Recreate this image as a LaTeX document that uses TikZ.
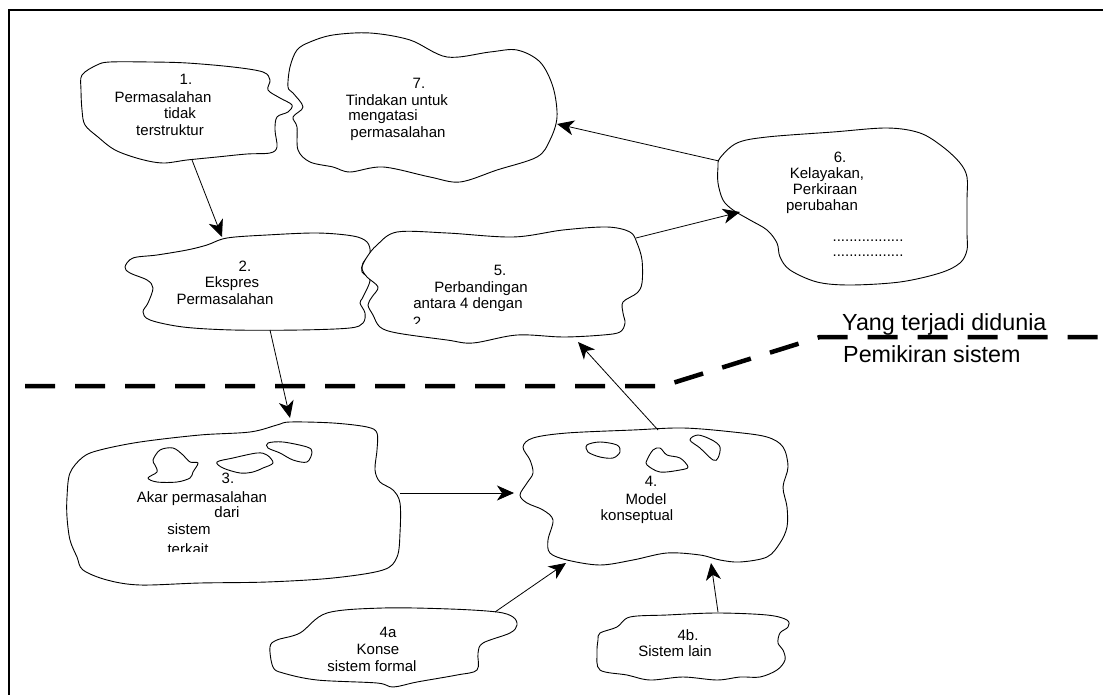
\documentclass[tikz,border=0pt]{standalone}
\usepackage{fontspec}
\setmainfont{Liberation Sans}
\usetikzlibrary{arrows.meta}

\tikzset{
  cloudline/.style={draw=black, line width=0.9pt, fill=white, line join=round},
  blobline/.style={draw=black, line width=0.9pt, line join=round},
  flow/.style={draw=black, line width=0.8pt, -{Stealth[length=17pt,width=15pt,inset=5pt]}},
  lbl/.style={anchor=base, inner sep=0pt, font=\fontsize{15}{17}\selectfont},
  bigtxt/.style={anchor=base west, inner sep=0pt, font=\fontsize{23.3}{27}\selectfont},
  border/.style={draw=black, line width=2.2pt},
  divider/.style={draw=black, line width=4.5pt, dash pattern=on 30pt off 20pt}
}
\newcommand\cloudpath[1]{\path[cloudline] plot[smooth cycle, tension=0.55] coordinates {#1};}
\newcommand\blobpath[1]{\path[blobline] plot[smooth cycle, tension=0.55] coordinates {#1};}

\begin{document}
\begin{tikzpicture}[x=1pt, y=-1pt]
\useasboundingbox (0,0) rectangle (1103,695);

% frame: top and left edges
\draw[border] (9,695) -- (9,10) -- (1103,10);

% boundary between the real world and systems thinking
\draw[divider] (25,386) -- (663,386) -- (820,337) -- (1103,337);
\node[bigtxt] (world) at (842,330) {Yang terjadi didunia};
\node[bigtxt] (think) at (843,362) {Pemikiran sistem};

% 1. unstructured problem
\cloudpath{(82,75) (97,65) (110,62) (150,62) (187,63) (233,67) (263,72) (270,80) (268,90) (280,98) (292,105) (288,112) (277,117) (275,130) (277,147) (270,153) (247,154) (217,157) (187,160) (163,163) (140,159) (115,150) (98,137) (85,125) (82,110) (81,90)}
\node[lbl] (t1a) at (186,85) {1.};
\node[lbl] (t1b) at (163,103) {Permasalahan};
\node[lbl] (t1c) at (180,119) {tidak};
\node[lbl] (t1d) at (170,136) {terstruktur};

% 7. action
\cloudpath{(297,50) (310,42) (333,35) (370,33) (410,40) (447,57) (490,52) (517,50) (540,62) (553,87) (557,117) (550,140) (537,157) (497,170) (460,182) (430,177) (383,167) (350,172) (333,167) (310,162) (298,150) (297,127) (293,117) (303,107) (293,93) (288,87) (290,67)}
\node[lbl] (t7a) at (419,89) {7.};
\node[lbl] (t7b) at (397,106) {Tindakan untuk};
\node[lbl] (t7c) at (383,121) {mengatasi};
\node[lbl] (t7d) at (398,138) {permasalahan};

% 6. feasible changes
\cloudpath{(718,167) (720,158) (737,143) (767,137) (833,132) (887,128) (920,133) (943,147) (960,163) (967,177) (967,200) (967,233) (967,250) (960,263) (940,273) (900,282) (850,285) (817,282) (790,270) (780,257) (777,243) (767,230) (750,220) (733,210) (723,200) (718,183)}
\node[lbl] (t6a) at (840,163) {6.};
\node[lbl] (t6b) at (827,179) {Kelayakan,};
\node[lbl] (t6c) at (825,195) {Perkiraan};
\node[lbl] (t6d) at (822,211) {perubahan};
\node[lbl] (t6e) at (868,241) {.................};
\node[lbl] (t6f) at (868,257) {.................};

% 2. problem expressed
\cloudpath{(125,267) (133,258) (157,255) (187,250) (207,245) (227,238) (267,235) (317,233) (353,236) (367,242) (370,253) (363,263) (362,272) (370,280) (363,297) (360,303) (365,313) (363,323) (350,328) (300,330) (233,330) (183,327) (150,320) (143,312) (148,303) (153,288) (147,280) (130,273)}
\node[lbl] (t2a) at (245,271) {2.};
\node[lbl] (t2b) at (232,287) {Ekspres};
\node[lbl] (t2c) at (225,304) {Permasalahan};

% 5. comparison
\cloudpath{(377,245) (397,232) (447,233) (513,237) (563,230) (607,227) (630,232) (637,243) (642,260) (642,283) (637,293) (623,302) (623,313) (625,323) (620,332) (603,335) (563,337) (517,335) (473,343) (447,340) (397,333) (380,327) (373,315) (368,305) (372,297) (378,287) (367,277) (362,268) (367,257)}
\node[lbl] (t5a) at (500,275) {5.};
\node[lbl] (t5b) at (481,292) {Perbandingan};
\node[lbl] (t5c) at (468,308) {antara 4 dengan};
\begin{scope}
  \clip (400,300) rectangle (440,323);
  \node[lbl] (t5d) at (417,327.5) {2};
\end{scope}

% 3. root definitions
\cloudpath{(70,473) (83,457) (100,450) (140,442) (200,435) (250,432) (277,425) (290,422) (333,423) (367,427) (377,433) (377,450) (375,470) (380,482) (393,490) (400,503) (400,533) (397,557) (383,570) (333,578) (267,582) (200,583) (140,585) (107,580) (83,570) (77,557) (70,540) (67,517) (67,497)}
\blobpath{(153,460) (160,450) (173,448) (183,455) (190,462) (198,463) (193,472) (190,478) (177,482) (157,482) (148,478) (157,472) (155,465)}
\blobpath{(217,462) (233,458) (257,453) (267,455) (273,463) (263,468) (253,472) (240,473) (223,468)}
\blobpath{(268,443) (283,442) (307,447) (312,452) (307,462) (293,460) (280,453) (268,448)}
\node[lbl] (t3a) at (228,483) {3.};
\node[lbl] (t3b) at (202,502) {Akar permasalahan};
\node[lbl] (t3c) at (227,517) {dari};
\node[lbl] (t3d) at (189,534) {sistem};
\begin{scope}
  \clip (150,535) rectangle (230,551);
  \node[lbl] (t3e) at (188,554.5) {terkait};
\end{scope}

% 4. conceptual model
\cloudpath{(530,460) (523,447) (533,438) (567,433) (633,430) (683,428) (733,432) (767,437) (783,447) (788,467) (783,487) (787,507) (787,527) (780,543) (767,557) (740,562) (720,560) (700,555) (667,553) (633,560) (600,565) (567,560) (550,553) (548,540) (553,520) (543,510) (527,503) (520,495) (527,483) (533,473)}
\blobpath{(587,445) (600,442) (617,445) (620,452) (613,458) (600,457) (588,452)}
\blobpath{(647,460) (653,450) (660,448) (667,455) (680,458) (688,467) (680,470) (660,472) (647,465)}
\blobpath{(690,440) (698,435) (712,440) (720,447) (718,458) (713,460) (700,448)}
\node[lbl] (t4a) at (651,486) {4.};
\node[lbl] (t4b) at (646,504) {Model};
\node[lbl] (t4c) at (637,520) {konseptual};

% 4a. formal system concept
\cloudpath{(270,647) (277,640) (300,633) (327,613) (383,608) (450,609) (497,612) (513,617) (517,625) (510,633) (483,643) (478,653) (477,670) (457,675) (417,682) (393,687) (377,683) (317,680) (283,673) (273,667)}
\node[lbl] (t4aa) at (388,637) {4a};
\node[lbl] (t4ab) at (378,654) {Konse};
\node[lbl] (t4ac) at (372,671) {sistem formal};

% 4b. other systems
\cloudpath{(598,640) (600,633) (617,627) (630,617) (667,615) (717,613) (767,615) (787,620) (788,627) (780,633) (778,643) (783,650) (785,660) (777,670) (760,677) (740,677) (717,680) (683,677) (650,680) (627,675) (600,670) (597,653)}
\node[lbl] (t4ba) at (688,640) {4b.};
\node[lbl] (t4bb) at (675,656) {Sistem lain};

% connector end points on the cloud outlines
\coordinate (o1) at (192,160);  \coordinate (i2) at (222,237);
\coordinate (o2) at (270,330);  \coordinate (i3) at (290,418);
\coordinate (o3) at (400,493);  \coordinate (i4) at (514,493);
\coordinate (o4) at (658,430);  \coordinate (i5) at (578,342);
\coordinate (o5) at (636,238);  \coordinate (i6) at (740,212);
\coordinate (o6) at (719,161);  \coordinate (i7) at (557,124);
\coordinate (o4a) at (495,612); \coordinate (j4a) at (566,563);
\coordinate (o4b) at (718,612); \coordinate (j4b) at (711,563);

\draw[flow] (o1) -- (i2);
\draw[flow] (o2) -- (i3);
\draw[flow] (o3) -- (i4);
\draw[flow] (o4) -- (i5);
\draw[flow] (o5) -- (i6);
\draw[flow] (o6) -- (i7);
\draw[flow] (o4a) -- (j4a);
\draw[flow] (o4b) -- (j4b);
\end{tikzpicture}
\end{document}
